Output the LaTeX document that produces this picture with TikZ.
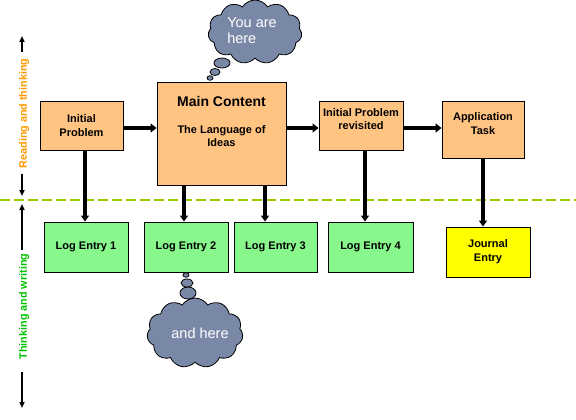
\documentclass[tikz,border=0pt]{standalone}
\usepackage{fontspec}
\setmainfont{Liberation Sans}
\usetikzlibrary{shapes.symbols,shapes.geometric,arrows.meta,calc}
\definecolor{boxorange}{HTML}{FFC382}
\definecolor{boxgreen}{HTML}{88F78C}
\definecolor{boxyellow}{HTML}{FFFF00}
\definecolor{cloudc}{HTML}{7A88A8}
\definecolor{dashc}{HTML}{99CC00}
\definecolor{readc}{HTML}{FF9900}
\definecolor{writec}{HTML}{00C400}
\tikzset{
  obox/.style={draw=black, line width=0.9pt, fill=boxorange, inner sep=0pt},
  gbox/.style={draw=black, line width=0.9pt, fill=boxgreen, inner sep=0pt, minimum width=84pt, minimum height=50pt, font=\bfseries\fontsize{11}{13}\selectfont},
  ybox/.style={draw=black, line width=0.9pt, fill=boxyellow, inner sep=0pt, minimum width=84pt, minimum height=50pt, font=\bfseries\fontsize{11}{14}\selectfont, align=center},
  btxt/.style={font=\bfseries\fontsize{11}{13.5}\selectfont, align=center, inner sep=0pt},
  harrow/.style={line width=3.8pt, -{Triangle[length=6pt,width=9pt]}},
  varrow/.style={line width=3.6pt, -{Triangle[length=6pt,width=8pt]}},
  sidearrow/.style={line width=1.6pt, -{Triangle[length=6pt,width=5pt]}},
  cloudbox/.style={cloud, cloud puffs=11, cloud puff arc=115, draw=black, line width=0.8pt, fill=cloudc, inner sep=0pt},
  bubble/.style={ellipse, draw=black, line width=0.8pt, fill=cloudc, inner sep=0pt},
  cloudtxt/.style={text=white, font=\fontsize{14.5}{16.5}\selectfont, align=left, inner sep=0pt},
  sidetxt/.style={rotate=90, font=\bfseries\fontsize{10.8}{12}\selectfont, inner sep=0pt}
}
\begin{document}
\begin{tikzpicture}[x=1pt,y=-1pt]
\useasboundingbox (0,0) rectangle (576,420);
\fill[white] (0,0) rectangle (576,420);

% dashed divider
\coordinate (dl) at (0,200);
\coordinate (dr) at (576,200);
\draw[dashc, line width=2pt, dash pattern=on 10pt off 4pt] (dl) -- (dr);

% top row boxes
\node[obox, minimum width=83pt, minimum height=49pt] (ip) at (81.5,125.5) {};
\node[btxt] (iptxt) at (81.5,125.5) {Initial\\Problem};
\node[obox, minimum width=129pt, minimum height=103pt] (main) at (221.5,133.5) {};
\node[font=\bfseries\fontsize{14}{16}\selectfont, inner sep=0pt] (maintitle) at (221.5,101) {Main Content};
\node[btxt] (mainsub) at (221.5,136) {The Language of\\Ideas};
\node[obox, minimum width=84pt, minimum height=49pt] (ipr) at (361,125.5) {};
\node[btxt] (iprtxt) at (361,119) {Initial Problem\\revisited};
\node[obox, minimum width=82pt, minimum height=57pt] (app) at (483,129.5) {};
\node[btxt] (apptxt) at (483,123.5) {Application\\Task};

% bottom row boxes
\node[gbox] (log1) at (86,247) {Log Entry 1};
\node[gbox] (log2) at (186,247) {Log Entry 2};
\node[gbox, minimum width=83pt] (log3) at (275.5,247) {Log Entry 3};
\node[gbox, minimum width=85pt] (log4) at (370.5,247) {Log Entry 4};
\node[ybox] (jour) at (488,252) {Journal\\Entry};

% horizontal arrows
\draw[harrow] (ip.east |- 0,128) -- (main.west |- 0,128);
\draw[harrow] (main.east |- 0,128) -- (ipr.west |- 0,128);
\draw[harrow] (ipr.east |- 0,128) -- (app.west |- 0,128);

% vertical arrows
\draw[varrow] ([xshift=-1pt]log1.north |- ip.south) -- ([xshift=-1pt]log1.north);
\draw[varrow] ([xshift=-2pt]log2.north |- main.south) -- ([xshift=-2pt]log2.north);
\draw[varrow] ([xshift=-10.5pt]log3.north |- main.south) -- ([xshift=-10.5pt]log3.north);
\draw[varrow] ([xshift=-5.5pt]log4.north |- ipr.south) -- ([xshift=-5.5pt]log4.north);
\draw[varrow] (app.south) -- (app.south |- jour.north);

% clouds
\node[cloudbox, minimum width=94pt, minimum height=64pt] (c1) at (255,32) {};
\node[cloudtxt] (c1t) at (252,30.5) {You are\\here};
\node[bubble, minimum width=16pt, minimum height=10pt] (b11) at (222,63) {};
\node[bubble, minimum width=10pt, minimum height=7pt] (b12) at (215,72) {};
\node[bubble, minimum width=6pt, minimum height=4.5pt] (b13) at (210,78) {};

\node[cloudbox, minimum width=96pt, minimum height=70pt] (c2) at (195,333) {};
\node[cloudtxt] (c2t) at (200,333) {and here};
\node[bubble, minimum width=16pt, minimum height=12pt] (b21) at (188,293) {};
\node[bubble, minimum width=12pt, minimum height=8pt] (b22) at (187,283) {};
\node[bubble, minimum width=6pt, minimum height=4.5pt] (b23) at (186,275) {};

% side labels
\node[sidetxt, text=readc] (rt) at (24,113.5) {Reading and thinking};
\coordinate (ra) at (22,52);
\coordinate (rat) at (22,36);
\coordinate (rb) at (22,174);
\coordinate (rbt) at (22,196);
\draw[sidearrow] (ra) -- (rat);
\draw[sidearrow] (rb) -- (rbt);

\node[sidetxt, text=writec] (wt) at (24,306.5) {Thinking and writing};
\coordinate (wa) at (22,250);
\coordinate (wat) at (22,204);
\coordinate (wb) at (22,372);
\coordinate (wbt) at (22,408);
\draw[sidearrow] (wa) -- (wat);
\draw[sidearrow] (wb) -- (wbt);
\end{tikzpicture}
\end{document}
